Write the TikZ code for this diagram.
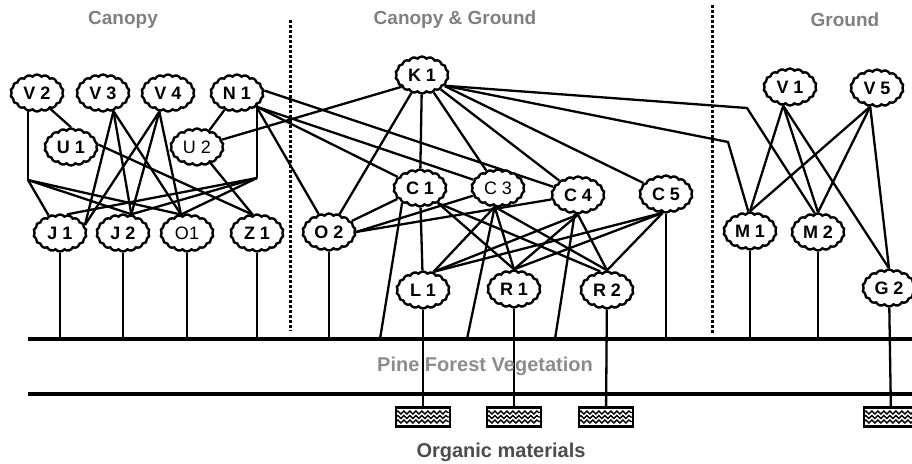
\documentclass[tikz,border=0pt]{standalone}
\usepackage{fontspec}
\setmainfont{Liberation Sans}
\usepackage{tikz}
\usetikzlibrary{shapes.symbols,decorations.pathmorphing}
\pgfdeclarelayer{bg}
\pgfsetlayers{bg,main}

\begin{document}
\begin{tikzpicture}[x = 1pt, y = -1pt,
  taxon/.style = {cloud, cloud puffs=18, cloud puff arc=105, cloud ignores aspect,
    draw, line width=2.4pt, fill=white, minimum width=53pt, minimum height=37pt,
    inner sep=0pt, font=\bfseries\fontsize{18}{18}\selectfont},
  plain taxon/.style = {taxon, font=\fontsize{18}{18}\selectfont},
  link/.style = {line width=2.3pt},
  stratum/.style = {line width=4.5pt},
  zone/.style = {line width=3pt, dash pattern=on 2.5pt off 2.5pt},
  head/.style = {font=\bfseries\fontsize{19}{19}\selectfont, text=black!50},
  soil/.style = {draw, line width=2.4pt, fill=white, minimum width=54pt,
    minimum height=19pt, inner sep=0pt,
    path picture={\foreach \s in {-4.5,0,4.5}
      \draw[line width=1.3pt, decorate, decoration={snake, segment length=6pt, amplitude=1.5pt}]
        ([yshift=\s pt]path picture bounding box.west) -- ([yshift=\s pt]path picture bounding box.east);}}]
\useasboundingbox (0,0) rectangle (912,463);

% zone titles
\node[head] (canopy) at (123,20) {Canopy};
\node[head] (both) at (455,20) {Canopy \& Ground};
\node[head] (ground) at (845,20) {Ground};

% canopy
\node[taxon] (V2) at (37,93) {V 2};
\node[taxon] (V3) at (103,93) {V 3};
\node[taxon] (V4) at (168,93) {V 4};
\node[taxon] (N1) at (237,93) {N 1};
\node[taxon] (U1) at (71,147) {U 1};
\node[plain taxon] (U2) at (197,147) {U 2};
\node[taxon] (J1) at (60,233) {J 1};
\node[taxon] (J2) at (123,233) {J 2};
\node[plain taxon] (O1) at (187,233) {O1};
\node[taxon] (Z1) at (257,233) {Z 1};

% canopy and ground
\node[taxon] (K1) at (422,75) {K 1};
\node[taxon] (O2) at (329,232) {O 2};
\node[taxon] (C1) at (420,188) {C 1};
\node[plain taxon] (C3) at (498,188) {C 3};
\node[taxon] (C4) at (578,195) {C 4};
\node[taxon] (C5) at (666,194) {C 5};
\node[taxon] (L1) at (423,290) {L 1};
\node[taxon] (R1) at (514,289) {R 1};
\node[taxon] (R2) at (607,290) {R 2};

% ground
\node[taxon] (V1) at (790,87) {V 1};
\node[taxon] (V5) at (877,88) {V 5};
\node[taxon] (M1) at (750,231) {M 1};
\node[taxon] (M2) at (818,232) {M 2};
\node[taxon] (G2) at (889,288) {G 2};

% strata
\coordinate (vegL) at (28,339);
\coordinate (vegR) at (912,339);
\coordinate (orgL) at (28,394);
\coordinate (orgR) at (912,394);
\draw[stratum] (vegL) -- (vegR);
\draw[stratum] (orgL) -- (orgR);
\node[font=\bfseries\fontsize{20}{20}\selectfont, text=black!45] (veg) at (485,366) {Pine Forest Vegetation};
\node[font=\bfseries\fontsize{20}{20}\selectfont, text=black!70] (org) at (501,452) {Organic materials};
\node[soil] (L1s) at (423,417) {};
\node[soil] (R1s) at (514,417) {};
\node[soil] (R2s) at (606,417) {};
\node[soil] (G2s) at (891,417) {};

% zone borders
\coordinate (z1t) at (290,20);
\coordinate (z1b) at (290,331);
\coordinate (z2t) at (712,5);
\coordinate (z2b) at (712,333);
\draw[zone] (z1t) -- (z1b);
\draw[zone] (z2t) -- (z2b);

\begin{pgfonlayer}{bg}
% canopy links
\coordinate (v2bus) at (28,180);
\coordinate (n1bus) at (257,178);
\draw[link] (v2bus |- V2) -- (v2bus);
\draw[link] (v2bus) -- (J1.123);
\draw[link] (v2bus) -- (J2.66);
\draw[link] (v2bus) -- (O1.108);
\draw[link] (n1bus |- N1) -- (n1bus);
\draw[link] (n1bus) -- (J1.69);
\draw[link] (n1bus) -- (J2.66);
\draw[link] (n1bus) -- (O1.108);
\draw[link] (V3.-60) -- (J1.18);
\draw[link] (V3.-60) -- (J2.66);
\draw[link] (V3.-60) -- (O1.108);
\draw[link] (V4.-115) -- (J1.18);
\draw[link] (V4.-115) -- (J2.66);
\draw[link] (V4.-115) -- (O1.108);
\draw[link] (V2.-50) -- (U1.north);
\draw[link] (U1.5) -- (Z1.103);
\draw[link] (U2.-50) -- (Z1.103);
\draw[link] (N1) -- (U2);
\draw[link] (U2) -- (K1.-150);

% K1 and N1
\coordinate (m2k) at (747,108);
\coordinate (m1k) at (728,142);
\draw[link] (K1) -- (O2);
\draw[link] (K1) -- (C1);
\draw[link] (K1) -- (C3);
\draw[link] (K1) -- (C4);
\draw[link] (K1) -- (C5);
\draw[link] (K1.-25) -- (m2k) -- (M2.100);
\draw[link] (K1.-25) -- (m1k) -- (M1.95);
\draw[link] (N1.-35) -- (O2);
\draw[link] (N1.-35) -- (C1);
\draw[link] (N1.-35) -- (C3);
\draw[link] (N1.5) -- (C4);

% O2 and the C row
\draw[link] (O2) -- (C1);
\draw[link] (O2.east) -- (C3);
\draw[link] (O2.east) -- (C4);
\draw[link] (C1) -- (L1);
\draw[link] (C1.-40) -- (R1.north);
\draw[link] (C1.-40) -- (R2.110);
\draw[link] (C3.-100) -- (L1.60);
\draw[link] (C3.-100) -- (R1.north);
\draw[link] (C3.-100) -- (R2.north);
\draw[link] (C4.south) -- (L1.60);
\draw[link] (C4.south) -- (R1.north);
\draw[link] (C4.south) -- (R2.north);
\draw[link] (C5.-100) -- (L1.60);
\draw[link] (C5.-100) -- (R1.north);
\draw[link] (C5.-100) -- (R2.north);

% ground
\draw[link] (V1.-110) -- (M1.north);
\draw[link] (V1.-110) -- (M2.north);
\draw[link] (V1.-110) -- (G2.north);
\draw[link] (V5.-110) -- (M1.north);
\draw[link] (V5.-110) -- (M2.north);
\draw[link] (V5.-110) -- (G2.north);

% down to the strata
\coordinate (c1g) at (380,339);
\coordinate (c3g) at (467,339);
\coordinate (c4g) at (555,339);
\draw[link] (J1) -- (J1 |- vegL);
\draw[link] (J2) -- (J2 |- vegL);
\draw[link] (O1) -- (O1 |- vegL);
\draw[link] (Z1) -- (Z1 |- vegL);
\draw[link] (O2) -- (O2 |- vegL);
\draw[link] (C1.-140) -- (c1g);
\draw[link] (C3.-100) -- (c3g);
\draw[link] (C4.-100) -- (c4g);
\draw[link] (C5) -- (C5 |- vegL);
\draw[link] (M1) -- (M1 |- vegL);
\draw[link] (M2) -- (M2 |- vegL);
\draw[link] (L1) -- (L1s);
\draw[link] (R1) -- (R1s);
\draw[link] (R2) -- (R2s);
\draw[link] (G2) -- (G2s);
\end{pgfonlayer}
\end{tikzpicture}
\end{document}
